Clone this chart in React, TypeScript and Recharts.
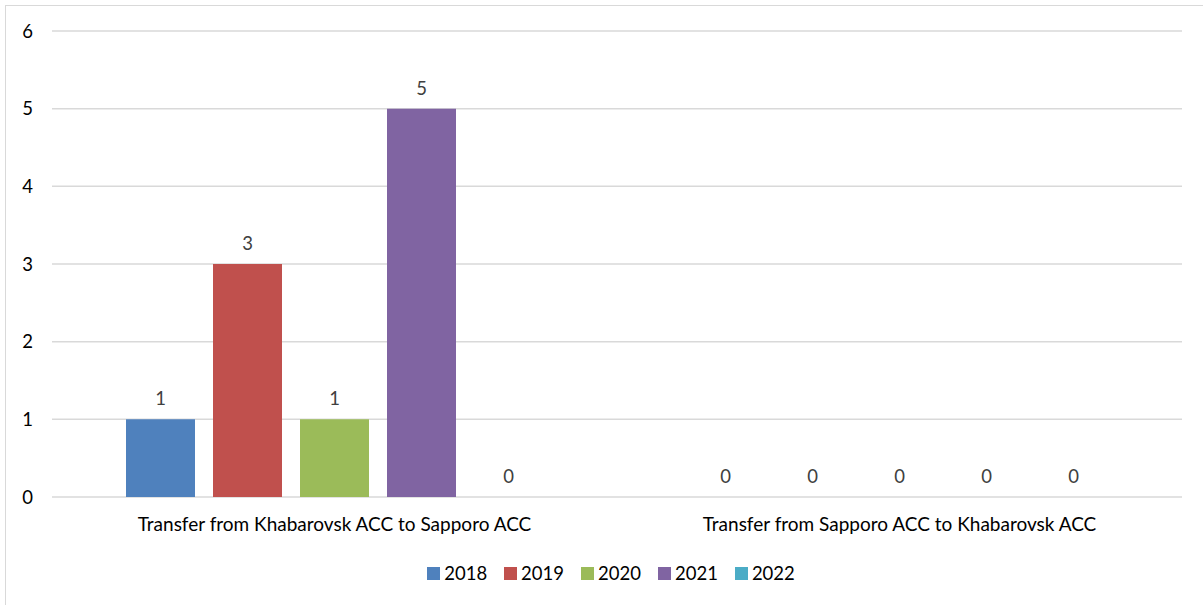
import React from 'react';
import { BarChart, Bar, XAxis, YAxis, CartesianGrid, Legend, LabelList } from 'recharts';

const categories = [
  'Transfer from Khabarovsk ACC to Sapporo ACC',
  'Transfer from Sapporo ACC to Khabarovsk ACC',
];
const years = ['2018', '2019', '2020', '2021', '2022'];
const values2018 = [1, 0];
const values2019 = [3, 0];
const values2020 = [1, 0];
const values2021 = [5, 0];
const values2022 = [0, 0];
const yTicks = [0, 1, 2, 3, 4, 5, 6];

const seriesValues = [values2018, values2019, values2020, values2021, values2022];
const colors = ['#4F81BD', '#C0504D', '#9BBB59', '#8064A2', '#4BACC6'];

const data = categories.map((name, i) => {
  const row: Record<string, string | number> = { name };
  years.forEach((y, s) => {
    row[y] = seriesValues[s][i];
  });
  return row;
});

const FONT = 'Lato, "Open Sans", sans-serif';

// custom legend so item spacing matches the original
const LegendContent = () => (
  <div style={{ display: 'flex', justifyContent: 'center', gap: 17, paddingLeft: 40, fontFamily: FONT, fontSize: 18.5, color: '#000', lineHeight: '22px' }}>
    {years.map((y, i) => (
      <div key={y} style={{ display: 'flex', alignItems: 'center' }}>
        <span style={{ width: 13, height: 13, background: colors[i], display: 'inline-block', marginRight: 4 }} />
        <span>{y}</span>
      </div>
    ))}
  </div>
);

export default function App() {
  return (
    <div style={{ position: 'fixed', left: 0, top: 0, width: 1203, height: 605, background: '#fff', overflow: 'hidden' }}>
      <div style={{ position: 'absolute', left: 5, top: 5, width: 1210, height: 620, border: '1.5px solid #d9d9d9' }} />
      <div style={{ position: 'absolute', left: 0, top: 0 }}>
        <BarChart
          width={1203}
          height={605}
          data={data}
          margin={{ top: 31, right: 21, left: 0, bottom: 5 }}
          barCategoryGap={74}
          barGap={18}
          style={{ fontFamily: FONT }}
        >
          <CartesianGrid vertical={false} stroke="#d9d9d9" strokeWidth={1.5} />
          <XAxis
            dataKey="name"
            axisLine={false}
            tickLine={false}
            tickMargin={15}
            height={65}
            tick={{ fill: '#000', fontSize: 19 }}
          />
          <YAxis
            width={52}
            domain={[0, 6]}
            ticks={yTicks}
            axisLine={false}
            tickLine={false}
            tickMargin={13}
            tick={{ fill: '#000', fontSize: 18.5 }}
          />
          <Legend verticalAlign="bottom" height={38} content={<LegendContent />} />
          {years.map((y, i) => (
            <Bar key={y} dataKey={y} fill={colors[i]} minPointSize={0.01} isAnimationActive={false}>
              <LabelList dataKey={y} position="top" offset={14} fill="#404040" fontSize={18.5} />
            </Bar>
          ))}
        </BarChart>
      </div>
    </div>
  );
}
